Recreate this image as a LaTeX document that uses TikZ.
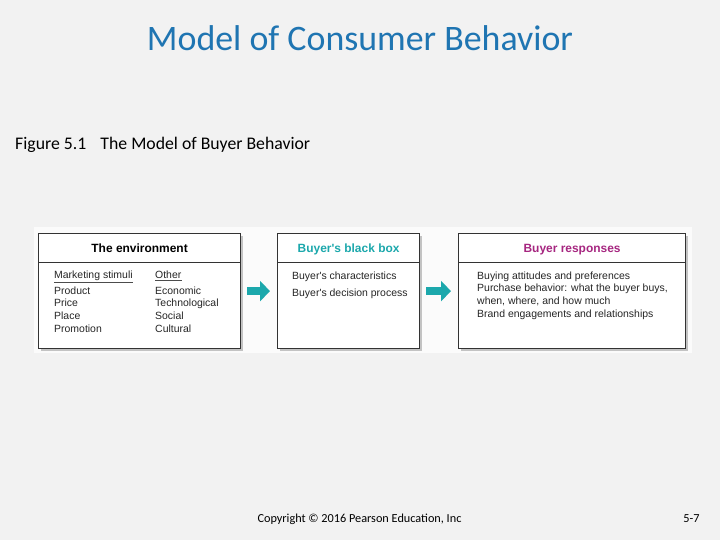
\documentclass[tikz,border=0pt]{standalone}
\usepackage{fontspec}
\setmainfont{Carlito}
\newfontfamily\arialfont{Liberation Sans}
\usetikzlibrary{arrows.meta,positioning,calc,shadows}
\definecolor{titleblue}{RGB}{31,117,178}
\definecolor{slidegray}{RGB}{242,242,242}
\definecolor{boxteal}{RGB}{28,168,172}
\definecolor{boxmagenta}{RGB}{166,38,128}

\begin{document}
\begin{tikzpicture}[x=1bp, y=-1bp,
  stagebox/.style={draw=black!80, line width=1.2bp, fill=white, anchor=north west,
    minimum height=115bp, inner sep=0pt,
    drop shadow={shadow xshift=2.5bp, shadow yshift=-2.5bp, fill=black!45}},
  headtext/.style={font=\arialfont\bfseries\fontsize{12}{14}\selectfont,
    text height=8.6bp, text depth=2.6bp},
  bodytext/.style={font=\arialfont\fontsize{10.5}{12.7}\selectfont, align=left,
    inner sep=0pt, anchor=north west, text=black!85},
  flowarrow/.style={draw=boxteal, line width=8bp, -{Triangle[length=10bp, width=20bp]},
    shorten <=6bp, shorten >=7bp}]
  \useasboundingbox[fill=slidegray] (0,0) rectangle (720,540);
  \fill[white!70!slidegray] (34,227) rectangle (692,353);

  % title and caption
  \node[font=\fontsize{36}{40}\selectfont, text=titleblue] (title) at (360,38) {Model of Consumer Behavior};
  \node[font=\fontsize{17.8}{20}\selectfont, anchor=west, inner sep=0pt] (caption) at (15,145)
    {Figure 5.1\hspace{0.8em}The Model of Buyer Behavior};

  % the three stages
  \node[stagebox, minimum width=202bp] (env) at (38,233) {};
  \node[stagebox, minimum width=142bp] (bbox) at (277,233) {};
  \node[stagebox, minimum width=227bp] (resp) at (458,233) {};

  \foreach \b in {env,bbox,resp}
    \draw[line width=0.8bp, black!80] ($(\b.north west)+(0,29)$) -- ($(\b.north east)+(0,29)$);

  \node[headtext] (envhead) at ($(env.north)+(0,17)$) {The environment};
  \node[headtext, text=boxteal] (bboxhead) at ($(bbox.north)+(0,17)$) {Buyer's black box};
  \node[headtext, text=boxmagenta] (resphead) at ($(resp.north)+(0,17)$) {Buyer responses};

  % environment columns
  \node[bodytext] (mkt) at (54,270.3) {Marketing stimuli};
  \node[bodytext] (other) at (155,270.3) {Other};
  \draw[black!70, line width=0.5bp] ($(mkt.south west)+(0,1.5)$) -- ($(mkt.south east)+(0,1.5)$);
  \draw[black!70, line width=0.5bp] ($(other.south west)+(0,1.5)$) -- ($(other.south east)+(0,1.5)$);
  \node[bodytext] (mktlist) at (54,286.3) {Product\\Price\\Place\\Promotion};
  \node[bodytext] (otherlist) at (155,286.3) {Economic\\Technological\\Social\\Cultural};

  % black box
  \node[bodytext] (chars) at (292,271.3) {Buyer's characteristics};
  \node[bodytext] (decide) at (292,288.3) {Buyer's decision process};

  % responses
  \node[bodytext] (resplist) at (477,271.3)
    {Buying attitudes and preferences\\Purchase behavior: what the buyer buys,\\when, where, and how much\\Brand engagements and relationships};

  % arrows
  \draw[flowarrow] (env) -- (bbox);
  \draw[flowarrow] (bbox) -- (resp);

  % footer
  \node[font=\fontsize{12.3}{14}\selectfont] (copy) at (359.5,519) {Copyright © 2016 Pearson Education, Inc};
  \node[font=\fontsize{12.3}{14}\selectfont] (page) at (691.5,519) {5-7};
\end{tikzpicture}
\end{document}
